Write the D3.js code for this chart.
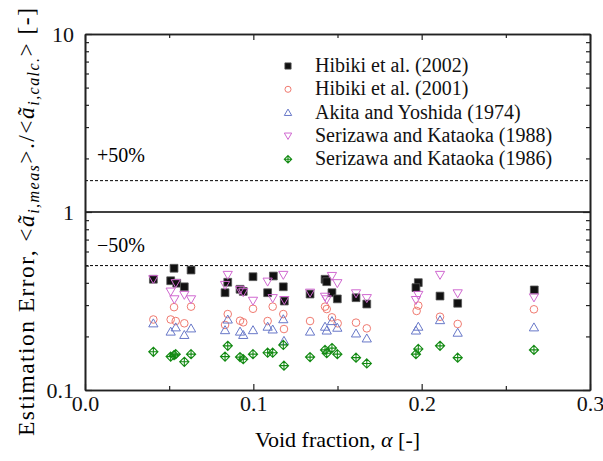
<!DOCTYPE html>
<html><head><meta charset="utf-8">
<script src="https://cdn.jsdelivr.net/npm/d3@7"></script>
<style>
body{margin:0;background:#fff;}
svg text{font-family:"Liberation Serif","Times New Roman","DejaVu Serif",serif;}
</style></head>
<body><svg id="c" width="603" height="461"></svg>
<script>
// ---- data ----
const seriesNames = ["Hibiki et al. (2002)","Hibiki et al. (2001)","Akita and Yoshida (1974)","Serizawa and Kataoka (1988)","Serizawa and Kataoka (1986)"];
const h2002X = [0.0406,0.0529,0.063,0.0509,0.0545,0.059,0.0848,0.0832,0.0998,0.0921,0.094,0.1119,0.1178,0.1085,0.1184,0.1337,0.1426,0.1436,0.1467,0.1499,0.161,0.1674,0.198,0.1966,0.2109,0.2214,0.2669];
const h2002Y = [0.419,0.483,0.472,0.411,0.398,0.380,0.403,0.352,0.433,0.368,0.358,0.437,0.380,0.352,0.316,0.346,0.419,0.406,0.352,0.325,0.330,0.304,0.401,0.376,0.337,0.307,0.365];
const h2001X = [0.0406,0.0529,0.0509,0.0539,0.059,0.063,0.0848,0.0832,0.0921,0.094,0.0998,0.1115,0.1178,0.1085,0.1182,0.1337,0.1426,0.1436,0.1467,0.1501,0.161,0.1674,0.198,0.197,0.2109,0.2214,0.2667];
const h2001Y = [0.249,0.292,0.249,0.244,0.237,0.294,0.267,0.232,0.245,0.240,0.286,0.294,0.267,0.244,0.220,0.244,0.294,0.285,0.256,0.237,0.239,0.222,0.298,0.278,0.258,0.235,0.284];
const akitaX = [0.0406,0.0509,0.0539,0.059,0.063,0.0848,0.0832,0.0921,0.094,0.0998,0.1085,0.1115,0.1178,0.1182,0.1337,0.1426,0.1436,0.1467,0.1499,0.161,0.1674,0.198,0.1966,0.2109,0.2214,0.2667];
const akitaY = [0.237,0.213,0.225,0.204,0.222,0.249,0.217,0.213,0.204,0.217,0.227,0.219,0.250,0.189,0.213,0.227,0.216,0.244,0.224,0.208,0.195,0.227,0.216,0.247,0.210,0.225];
const s1988X = [0.0406,0.0539,0.0509,0.0531,0.059,0.063,0.0848,0.0832,0.0921,0.094,0.0998,0.1085,0.1115,0.1178,0.1184,0.1337,0.1426,0.1436,0.1467,0.1499,0.161,0.1674,0.198,0.1966,0.2109,0.2214,0.2667];
const s1988Y = [0.419,0.398,0.357,0.323,0.342,0.323,0.443,0.389,0.365,0.354,0.317,0.406,0.328,0.443,0.320,0.352,0.334,0.323,0.437,0.398,0.349,0.328,0.342,0.320,0.443,0.349,0.331];
const s1986X = [0.0406,0.0509,0.0529,0.0539,0.059,0.063,0.0848,0.0832,0.0921,0.094,0.0998,0.1085,0.1115,0.1178,0.1182,0.1337,0.1426,0.1436,0.1467,0.1499,0.161,0.1674,0.198,0.1966,0.2109,0.2214,0.2667];
const s1986Y = [0.164,0.154,0.157,0.159,0.144,0.159,0.177,0.154,0.153,0.149,0.159,0.162,0.162,0.179,0.137,0.153,0.168,0.161,0.172,0.159,0.152,0.141,0.170,0.159,0.177,0.152,0.168];
const xTicks = [0, 0.1, 0.2, 0.3];
const xTickLabels = ["0.0","0.1","0.2","0.3"];
const xMinorTicks = [0.05, 0.15, 0.25];
const yTicks = [0.1, 1, 10];
const yTickLabels = ["0.1","1","10"];
const yMinorTicks = [0.2,0.3,0.4,0.5,0.6,0.7,0.8,0.9,2,3,4,5,6,7,8,9];
const refLines = [1.5, 0.5];
const refLabels = ["+50%","\u221250%"];

// ---- layout ----
const FONT = "Liberation Serif, Times New Roman, DejaVu Serif, serif";
const svg = d3.select("#c").attr("font-family", FONT);
const L=85, R=590, T=34, B=390;
const x = d3.scaleLinear().domain([0,0.3]).range([L,R]);
const y = d3.scaleLog().domain([0.1,10]).range([B,T]);
const axisColor = "#222";

// reference lines
svg.append("line").attr("x1",L).attr("x2",R).attr("y1",y(1)).attr("y2",y(1))
  .attr("stroke","#000").attr("stroke-width",1.3);
refLines.forEach(v=>{
  svg.append("line").attr("x1",L).attr("x2",R).attr("y1",y(v)).attr("y2",y(v))
   .attr("stroke","#000").attr("stroke-width",1).attr("stroke-dasharray","3,2");
});
svg.append("text").attr("x",97).attr("y",y(1.5)-19).attr("font-size",20).text(refLabels[0]);
svg.append("text").attr("x",97).attr("y",y(0.5)-14).attr("font-size",20).text(refLabels[1]);

// axes
function styleAxis(g){
  g.attr("font-family",FONT);
  g.selectAll("path.domain").attr("stroke",axisColor).attr("stroke-width",1.6);
  g.selectAll(".tick line").attr("stroke",axisColor).attr("stroke-width",1.2);
  g.selectAll(".tick text").attr("font-size",22).attr("fill","#111");
}
const xFmt = d => xTickLabels[xTicks.indexOf(d)];
const yFmt = d => yTickLabels[yTicks.indexOf(d)];
svg.append("g").attr("transform",`translate(0,${B})`)
  .call(d3.axisBottom(x).tickValues(xTicks).tickFormat(xFmt).tickSize(-6).tickSizeOuter(0).tickPadding(5)).call(styleAxis);
svg.append("g").attr("transform",`translate(0,${B})`)
  .call(d3.axisBottom(x).tickValues(xMinorTicks).tickFormat("").tickSize(-4).tickSizeOuter(0)).call(styleAxis);
svg.append("g").attr("transform",`translate(0,${T})`)
  .call(d3.axisTop(x).tickValues(xTicks).tickFormat("").tickSize(-6).tickSizeOuter(0)).call(styleAxis);
svg.append("g").attr("transform",`translate(0,${T})`)
  .call(d3.axisTop(x).tickValues(xMinorTicks).tickFormat("").tickSize(-4).tickSizeOuter(0)).call(styleAxis);
svg.append("g").attr("transform",`translate(${L},0)`)
  .call(d3.axisLeft(y).tickValues(yTicks).tickFormat(yFmt).tickSize(-7).tickSizeOuter(0).tickPadding(11)).call(styleAxis);
svg.append("g").attr("transform",`translate(${L},0)`)
  .call(d3.axisLeft(y).tickValues(yMinorTicks).tickFormat("").tickSize(-4).tickSizeOuter(0)).call(styleAxis);
svg.append("g").attr("transform",`translate(${R},0)`)
  .call(d3.axisRight(y).tickValues(yTicks).tickFormat("").tickSize(-7).tickSizeOuter(0)).call(styleAxis);
svg.append("g").attr("transform",`translate(${R},0)`)
  .call(d3.axisRight(y).tickValues(yMinorTicks).tickFormat("").tickSize(-4).tickSizeOuter(0)).call(styleAxis);

// axis titles
const xt = svg.append("text").attr("x",(L+R)/2).attr("y",447).attr("text-anchor","middle").attr("font-size",22);
xt.append("tspan").text("Void fraction, ");
xt.append("tspan").attr("font-style","italic").text("\u03b1");
xt.append("tspan").text(" [-]");

const yt = svg.append("text").attr("transform","translate(34,222) rotate(-90)").attr("text-anchor","middle")
  .attr("font-size",23.5).attr("textLength",428).attr("lengthAdjust","spacing");
yt.append("tspan").text("Estimation Error, <");
yt.append("tspan").attr("font-style","italic").text("a\u0303");
yt.append("tspan").attr("font-style","italic").attr("font-size",16).attr("dy",5).text("i,meas");
yt.append("tspan").attr("dy",-5).text(">./<");
yt.append("tspan").attr("font-style","italic").text("a\u0303");
yt.append("tspan").attr("font-style","italic").attr("font-size",16).attr("dy",5).text("i,calc.");
yt.append("tspan").attr("dy",-5).text("> [-]");

// markers
const markers = {
  square: s => `M${-s},${-s}h${2*s}v${2*s}h${-2*s}Z`,
  circle: s => `M${s},0A${s},${s} 0 1,1 ${-s},0A${s},${s} 0 1,1 ${s},0Z`,
  up: s => `M0,${-s*1.05}L${s*1.1},${s*0.85}L${-s*1.1},${s*0.85}Z`,
  down: s => `M0,${s*1.05}L${s*1.1},${-s*0.85}L${-s*1.1},${-s*0.85}Z`,
  cdiam: s => `M0,${-s}L${s},0L0,${s}L${-s},0Z M0,${-s}V${s} M${-s},0H${s}`
};
const series = [
  {xs:h2002X, ys:h2002Y, m:"square", s:3.9, fill:"#111", stroke:"#555", sw:0.8},
  {xs:h2001X, ys:h2001Y, m:"circle", s:3.8, fill:"none", stroke:"#f07a70", sw:1},
  {xs:akitaX, ys:akitaY, m:"up", s:4.2, fill:"none", stroke:"#6878c8", sw:1},
  {xs:s1988X, ys:s1988Y, m:"down", s:4.2, fill:"none", stroke:"#d068d0", sw:1},
  {xs:s1986X, ys:s1986Y, m:"cdiam", s:4.6, fill:"none", stroke:"#128a12", sw:1.1}
];
const plot = svg.append("g");
[1,2,4,0,3].forEach(i=>{
  const sr = series[i];
  plot.append("g").selectAll("path").data(sr.xs.map((v,k)=>[v,sr.ys[k]])).join("path")
    .attr("transform",d=>`translate(${x(d[0])},${y(d[1])})`)
    .attr("d",markers[sr.m](sr.s))
    .attr("fill",sr.fill).attr("stroke",sr.stroke).attr("stroke-width",sr.sw);
});

// legend
const lg = svg.append("g");
seriesNames.forEach((name,i)=>{
  const sr = series[i];
  const yy = 66 + i*23.3;
  lg.append("path").attr("transform",`translate(288,${yy})`)
    .attr("d",markers[sr.m](sr.s*0.8)).attr("fill",sr.fill).attr("stroke",sr.stroke).attr("stroke-width",sr.sw);
  lg.append("text").attr("x",315).attr("y",yy+6).attr("font-size",20).attr("fill","#111").text(name);
});
</script></body></html>
